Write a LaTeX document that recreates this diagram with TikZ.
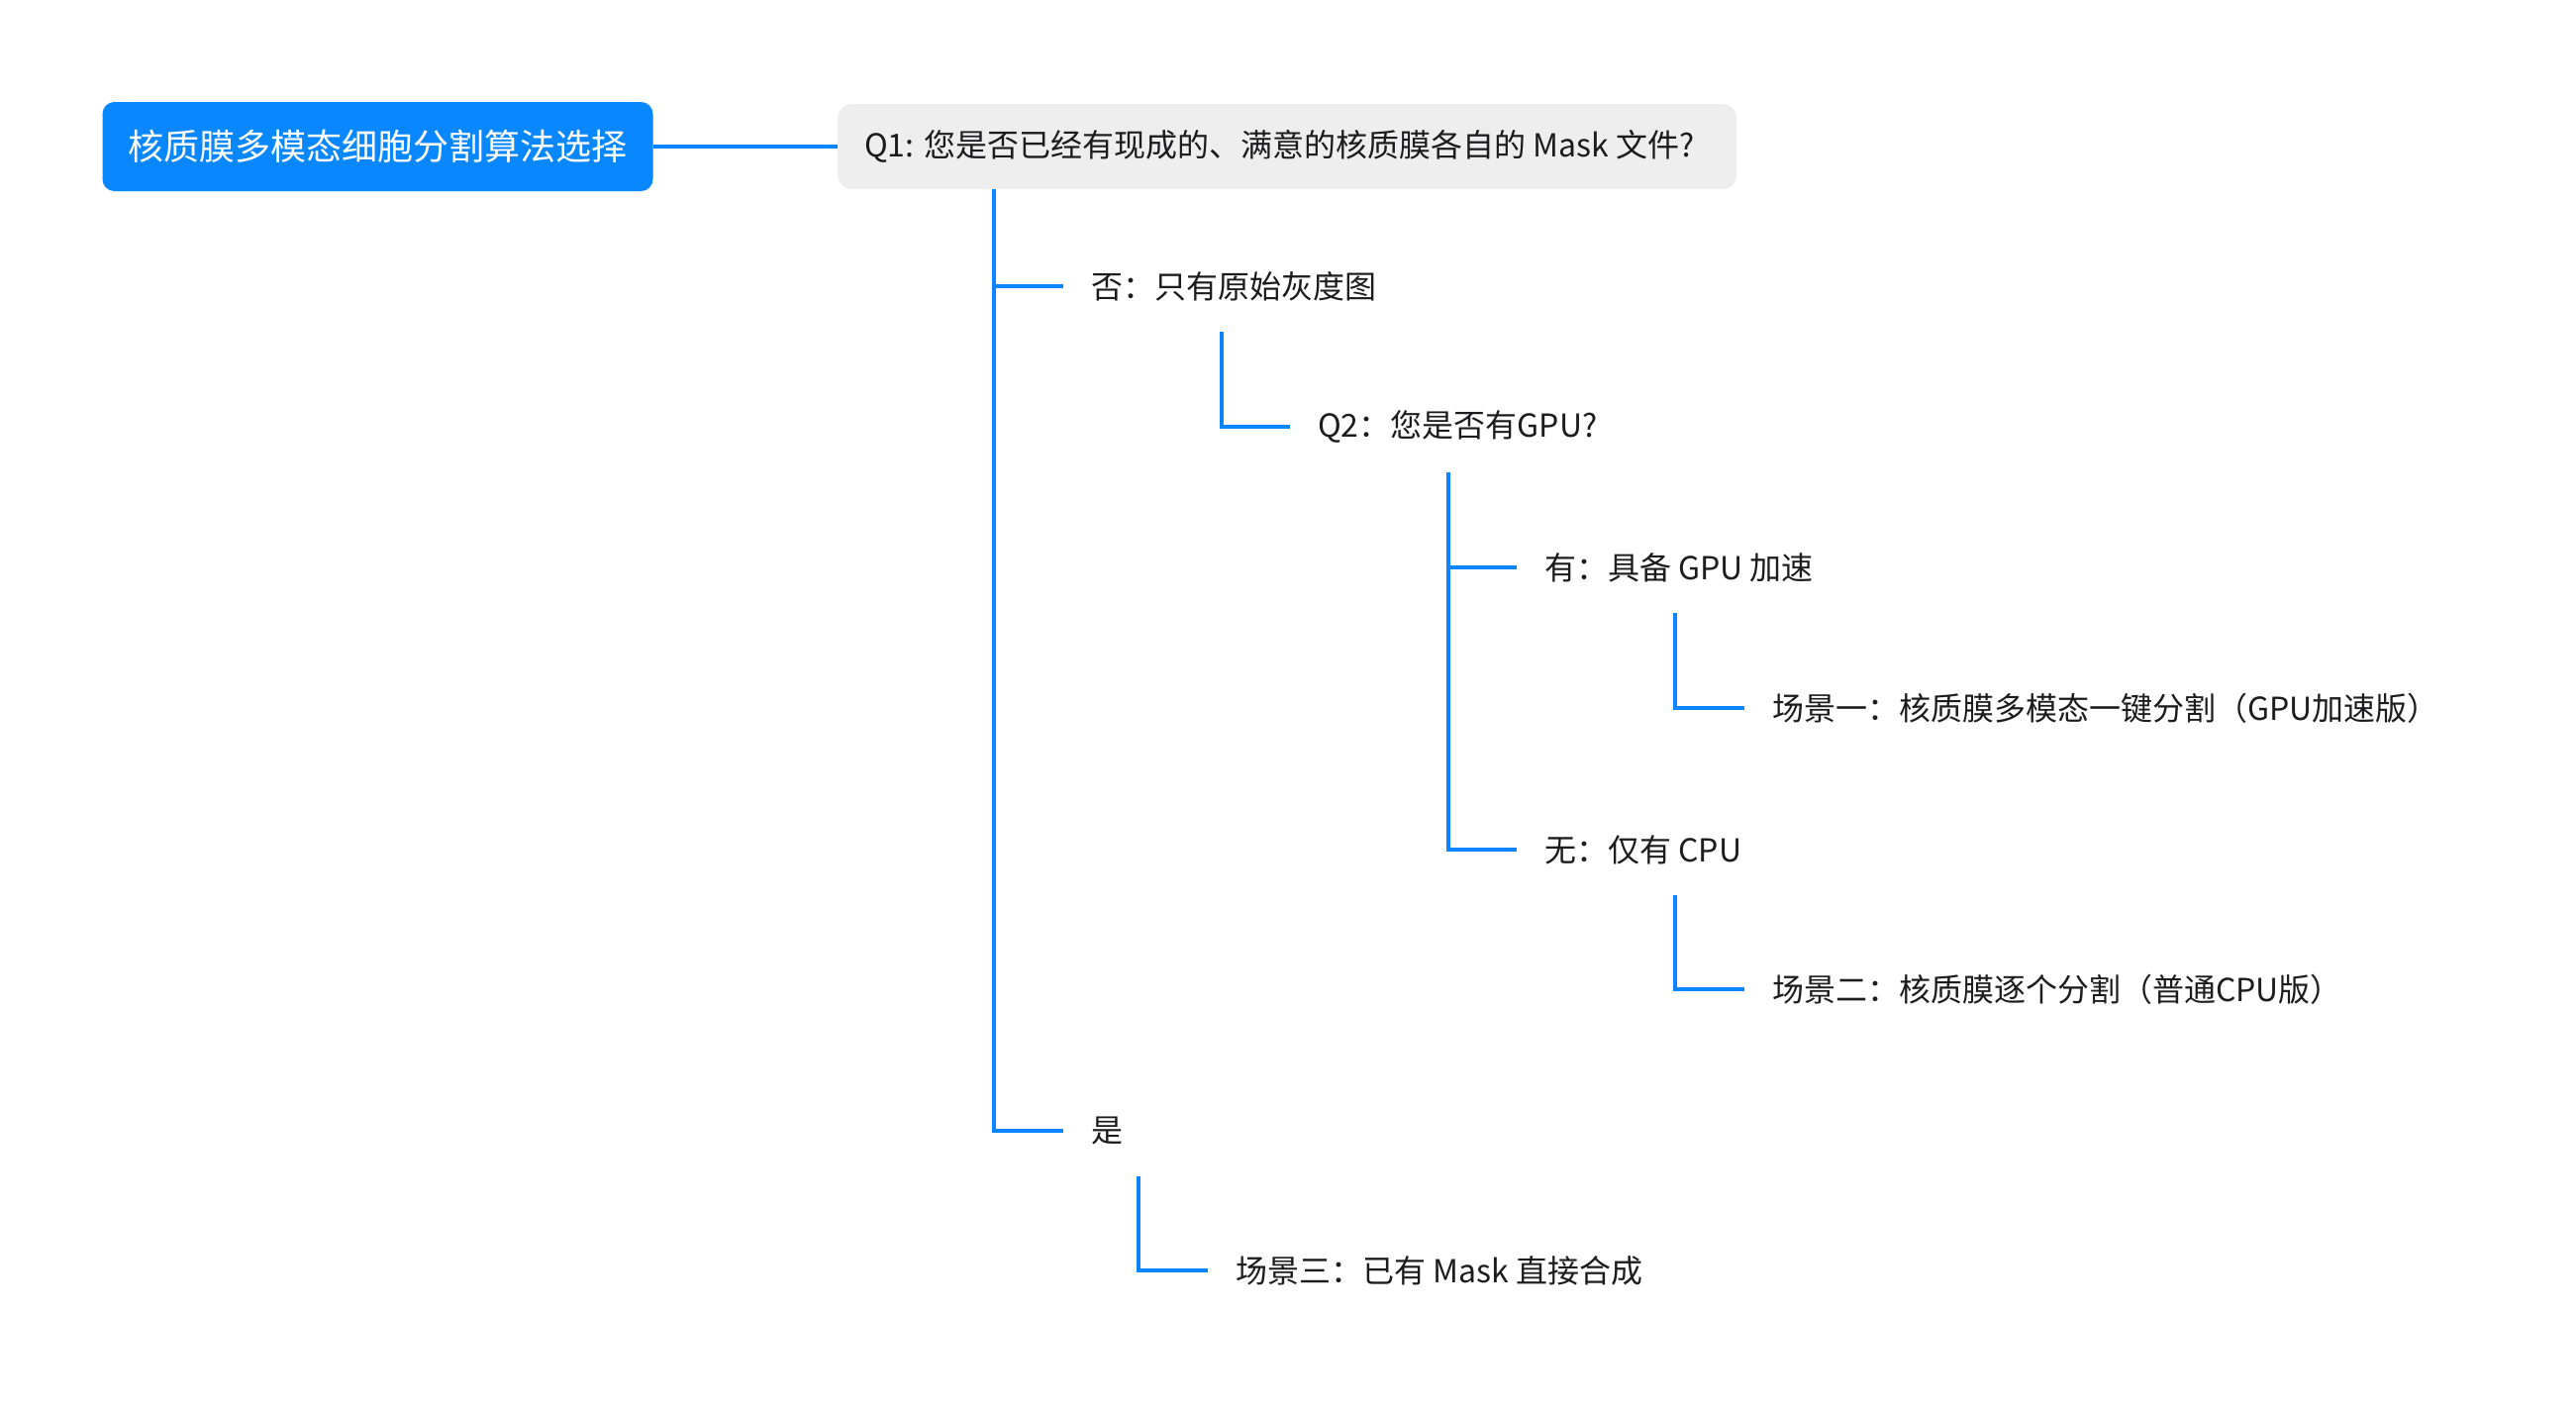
\documentclass[tikz,border=0pt]{standalone}
\usepackage{fontspec}
\setmainfont{Noto Sans CJK SC}
\usepackage{tikz}
\usetikzlibrary{calc}
\definecolor{RootFill}{RGB}{8,135,255}
\definecolor{LinkLine}{RGB}{10,132,255}
\definecolor{QFill}   {RGB}{238,238,238}
\definecolor{TxtCol}  {RGB}{28,28,30}
\tikzset{
  nd_root/.style={rectangle,rounded corners=12pt,fill=RootFill,text=white,inner xsep=26pt,minimum height=90pt,font=\fontsize{36}{40}\selectfont},
  nd_q/.style={rectangle,rounded corners=14pt,fill=QFill,text=TxtCol,anchor=west,inner xsep=27pt,text width=854pt,align=flush left,minimum height=86pt,font=\fontsize{32}{38}\selectfont},
  nd_txt/.style={rectangle,anchor=west,inner xsep=28pt,inner ysep=0pt,minimum height=92pt,text=TxtCol,font=\fontsize{32}{38}\selectfont},
  lnk/.style={draw=LinkLine,line width=3.2pt},
}

\begin{document}
\begin{tikzpicture}[x=1pt,y=-1pt]
\useasboundingbox (0,0) rectangle (2602,1428);
\def\dx{160}
\node[nd_root] at (381.5,148)(R){核质膜多模态细胞分割算法选择};
\node[nd_q]    at (846,148)(Q1){Q1: 您是否已经有现成的、满意的核质膜各自的 Mask 文件?};
% branch: no
\node[nd_txt] at (1074,289)(N){否：只有原始灰度图};
\node[nd_txt] at (1303,431)(Q2){Q2：您是否有GPU?};
\node[nd_txt] at (1532,573)(H){有：具备 GPU 加速};
\node[nd_txt] at (1762,715)(S1){场景一：核质膜多模态一键分割（GPU加速版）};
\node[nd_txt] at (1532,858)(O){无：仅有 CPU};
\node[nd_txt] at (1762,999)(S2){场景二：核质膜逐个分割（普通CPU版）};
% branch: yes
\node[nd_txt] at (1074,1142)(Y){是};
\node[nd_txt] at (1220,1283)(S3){场景三：已有 Mask 直接合成};
% links
\draw[lnk](R.east)--(Q1.west);
\draw[lnk]([xshift=158pt]Q1.south west)|-(N.west);
\draw[lnk]([xshift=158pt]Q1.south west)|-(Y.west);
\draw[lnk]([xshift=\dx pt]N.south west)|-(Q2.west);
\draw[lnk]([xshift=\dx pt]Q2.south west)|-(H.west);
\draw[lnk]([xshift=\dx pt]Q2.south west)|-(O.west);
\draw[lnk]([xshift=\dx pt]H.south west)|-(S1.west);
\draw[lnk]([xshift=\dx pt]O.south west)|-(S2.west);
\draw[lnk]([xshift=76pt]Y.south west)|-(S3.west);
\end{tikzpicture}
\end{document}
